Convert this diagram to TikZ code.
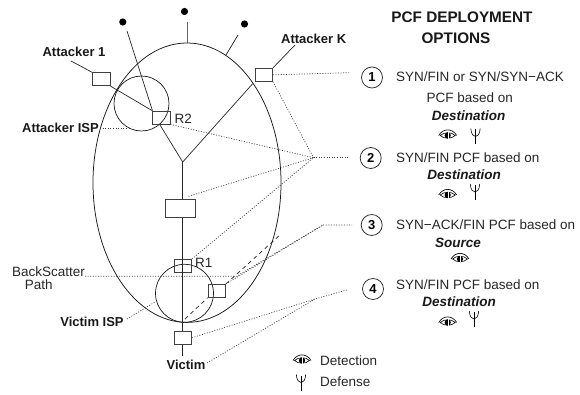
\documentclass[tikz,border=0pt]{standalone}
\usepackage{fontspec}
\setmainfont{Liberation Sans}
\usetikzlibrary{calc}
\tikzset{
 wire/.style={line width=0.7pt,black!85},
 dots/.style={line width=0.7pt,black!75,dash pattern=on 1pt off 1.6pt},
 dashline/.style={line width=0.7pt,black!85,dash pattern=on 4pt off 3.5pt},
 boxn/.style={draw=black!75,line width=0.8pt,fill=none,inner sep=0pt,minimum width=17.5pt,minimum height=13pt},
 bl/.style={font=\fontsize{13}{15}\selectfont\bfseries,inner sep=0pt,text=black!90},
 tx/.style={font=\fontsize{13.5}{15}\selectfont,inner sep=0pt,text=black!85},
 em/.style={font=\fontsize{13.5}{15}\selectfont\bfseries\itshape,inner sep=0pt,text=black!90},
 title/.style={font=\fontsize{15.3}{17}\selectfont\bfseries,inner sep=0pt,text=black!90},
 optc/.style={circle,draw=black!85,line width=0.75pt,minimum size=21pt,inner sep=0pt,font=\fontsize{13}{15}\selectfont\bfseries},
 hostdot/.style={circle,fill=black,inner sep=0pt,minimum size=7.2pt},
 eye/.pic={
  \draw[line width=0.6pt] (-7.5,0.5) .. controls (-3.5,-3.2) and (3.5,-3.2) .. (7.5,0.5) .. controls (3.5,4.2) and (-3.5,4.2) .. cycle;
  \draw[line width=0.65pt] (-9,0.5) .. controls (-4.5,-7) and (4.5,-7) .. (9,0.5);
  \fill (0,0.5) circle [radius=3.1];
  \draw[white,line width=0.4pt] (0,-2.6) -- (0,3.6);
 },
 antenna/.pic={
  \draw[line width=0.6pt] (-4.7,-8) .. controls (-4.3,-2) and (-2,0) .. (0,0) .. controls (2,0) and (4.3,-2) .. (4.7,-8);
  \draw[line width=0.6pt] (0,-7) -- (0,8);
 },
}
\begin{document}
\begin{tikzpicture}[x=1pt,y=-1pt]
\useasboundingbox (0,0) rectangle (580,395);
% large and small regions
\draw[line width=0.75pt,black!90] (187,182.7) ellipse [x radius=94,y radius=139.7];
\draw[line width=0.7pt,black!90] (141.5,103.5) circle [radius=27.5];
\draw[line width=0.7pt,black!90] (184.5,293.3) circle [radius=29];
% boxes
\node[boxn] (a1) at (101.3,79.2) {};
\node[boxn] (ak) at (263.8,74.8) {};
\node[boxn] (r2) at (161.3,117.5) {};
\node[boxn,minimum width=29.5pt,minimum height=17.5pt] (mid) at (180.4,208.4) {};
\node[boxn] (r1) at (182.8,265.8) {};
\node[boxn] (side) at (216.8,290.8) {};
\node[boxn] (vic) at (182.8,337.8) {};
% hosts
\node[hostdot] (h1) at (122.8,22) {};
\node[hostdot] (h2) at (184.5,11.5) {};
\node[hostdot] (h3) at (244.5,24) {};
% free ends
\coordinate (e1) at (127,31);
\coordinate (e2) at (187,22);
\coordinate (e2b) at (187,43);
\coordinate (e3) at (238,35);
\coordinate (e3b) at (226,55);
\coordinate (y) at (182.7,162);
\coordinate (a1end) at (71,61);
\coordinate (akend) at (295,45);
\coordinate (vicend) at (182.7,356);
\coordinate (hub) at (313.5,157.7);
\coordinate (hubb) at (323,225);
\coordinate (hubc) at (315,299);
\coordinate (o1) at (349,72.7);
\coordinate (o2) at (348,157.7);
\coordinate (o3) at (352,225);
\coordinate (o4) at (346.7,290);
\coordinate (bsa) at (85,276.3);
\coordinate (bsb) at (236.5,276.3);
\coordinate (ispa) at (100,128);
\coordinate (ispb) at (130,128);
\coordinate (visa) at (127,319);
\coordinate (visb) at (155,302);
\coordinate (dashend) at (281,234);
\coordinate (dashlow) at (185,319);
% solid connectors
\draw[wire] (e1) -- ($(r2.north west)+(0.3,0)$);
\draw[wire,black!60] (e2) -- (e2b);
\draw[wire] (e3) -- (e3b);
\draw[wire] (a1end) -- (a1.north west);
\draw[wire] (a1.south east) -- (r2.north west);
\draw[wire] (ak.north east) -- (akend);
\draw[wire] ($(ak.south west)+(-2,2)$) -- (y);
\draw[wire] ($(r2.south west)+(7.5,0)$) -- (y);
\draw[wire] (y) -- (y |- mid.north);
\draw[wire] (y |- mid.south) -- (y |- r1.north);
\draw[wire] (y |- r1.north) -- (y |- vic.north);
\draw[wire] (y |- vic.south) -- (vicend);
% dashed
\draw[dashline] (side.north east) -- (dashend);
\draw[dashline] (dashlow) -- (side.south west);
% dotted
\draw[dots] (ak.east) -- (o1);
\draw[dots] (ak.south east) -- (hub);
\draw[dots] (r2.south east) -- (hub);
\draw[dots] ($(mid.north east)+(-7,-3)$) -- (hub);
\draw[dots] (r1.north east) -- (hub);
\draw[dots] (hub) -- (o2);
\draw[dots] (bsa) -- (bsb) -- (hubb) -- (o3);
\draw[dots] (side.north east) -- (hubb);
\draw[dots] (ispa) -- (ispb);
\draw[dots] (visa) -- (visb);
\draw[dots] (vic.east) -- (hubc) -- (o4);
\draw[dots] (207,363) -- (hubc);
% left labels
\node[bl] (la1) at (74,51.5) {Attacker 1};
\node[bl,anchor=west] (lak) at (281,38.5) {Attacker K};
\node[bl] (lisp) at (60.5,127.5) {Attacker ISP};
\node[tx,anchor=west] (lr2) at (174.5,119) {R2};
\node[tx,anchor=west] (lr1) at (195,263) {R1};
\node[tx] (lbs) at (48.5,272) {BackScatter};
\node[tx] (lpath) at (38.7,284.5) {Path};
\node[bl] (lvisp) at (92,322) {Victim ISP};
\node[bl] (lvic) at (186,365) {Victim};
% right column
\node[title] (t1) at (462,17) {PCF DEPLOYMENT};
\node[title] (t2) at (456,38) {OPTIONS};
\node[optc] (c1) at (372,77.5) {1};
\node[optc] (c2) at (370.7,158) {2};
\node[optc] (c3) at (371.7,225) {3};
\node[optc] (c4) at (373,289) {4};
\node[tx,anchor=west] (s1) at (396,77) {SYN/FIN or SYN/SYN−ACK};
\node[tx] (s1b) at (469.7,98) {PCF based on};
\node[em] (s1c) at (468.5,115.5) {Destination};
\node[tx,anchor=west] (s2) at (396,157.5) {SYN/FIN PCF based on};
\node[em] (s2c) at (464,174.5) {Destination};
\node[tx,anchor=west] (s3) at (396,225) {SYN−ACK/FIN PCF based on};
\node[em] (s3c) at (458,242.5) {Source};
\node[tx,anchor=west] (s4) at (396,285) {SYN/FIN PCF based on};
\node[em] (s4c) at (459,302) {Destination};
\pic at (447.7,135) {eye};
\pic at (475.5,136.5) {antenna};
\pic at (447.7,194.5) {eye};
\pic at (475,192) {antenna};
\pic at (460,258.5) {eye};
\pic at (447.7,322) {eye};
\pic at (474,319) {antenna};
\pic at (302,360) {eye};
\pic at (301,382.5) {antenna};
\node[tx,anchor=west] (ld) at (320,361) {Detection};
\node[tx,anchor=west] (lf) at (320,381.5) {Defense};
\end{tikzpicture}
\end{document}
